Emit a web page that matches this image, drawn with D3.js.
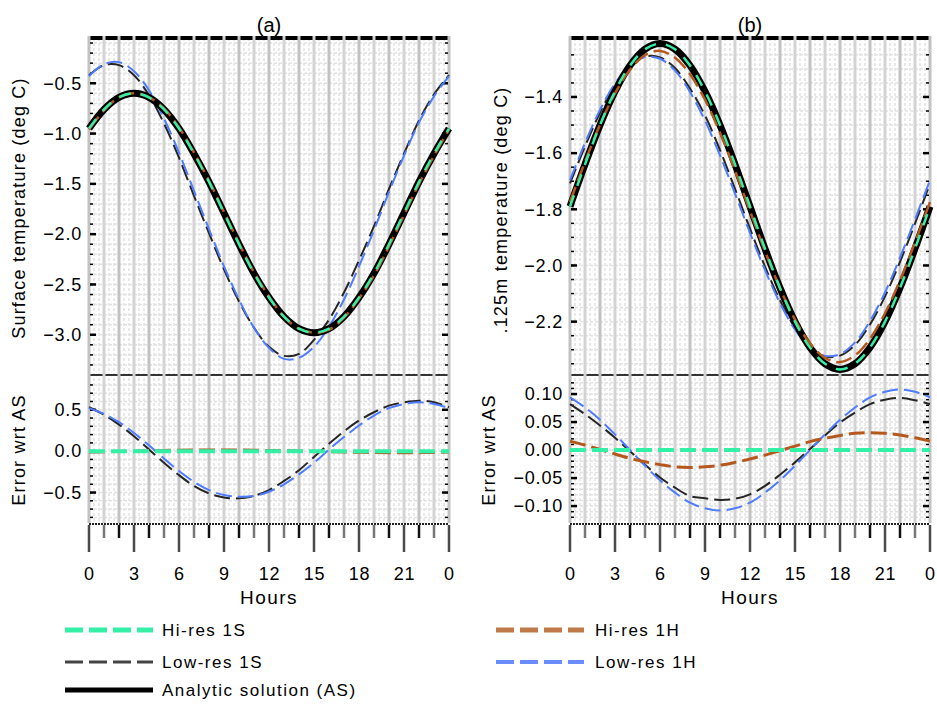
<!DOCTYPE html>
<html>
<head>
<meta charset="utf-8">
<script src="https://cdn.jsdelivr.net/npm/d3@7"></script>
<style>
  body { margin: 0; background: #fff; }
  svg text { font-family: "Liberation Sans", Arial, sans-serif; fill: #000; }
</style>
</head>
<body>
<svg id="chart" width="937" height="704"></svg>
<script>
// hours of the day (0..24, last one wraps to 0)
const hours = [0,1,2,3,4,5,6,7,8,9,10,11,12,13,14,15,16,17,18,19,20,21,22,23,24];
const hourTicks = [0,3,6,9,12,15,18,21,24];
const hourTickLabels = ["0","3","6","9","12","15","18","21","0"];

// (a) surface temperature, deg C
const surfAS      = [-0.95,-0.76,-0.64,-0.60,-0.64,-0.76,-0.95,-1.20,-1.48,-1.79,-2.10,-2.39,-2.63,-2.82,-2.94,-2.98,-2.94,-2.82,-2.63,-2.39,-2.10,-1.79,-1.48,-1.20,-0.95];
const surfHi1S    = [-0.95,-0.76,-0.64,-0.60,-0.64,-0.76,-0.95,-1.20,-1.48,-1.79,-2.10,-2.39,-2.63,-2.82,-2.94,-2.98,-2.94,-2.82,-2.63,-2.39,-2.10,-1.79,-1.48,-1.20,-0.95];
const surfHi1H    = [-0.96,-0.77,-0.64,-0.60,-0.64,-0.75,-0.94,-1.19,-1.47,-1.78,-2.09,-2.38,-2.62,-2.82,-2.94,-2.98,-2.95,-2.83,-2.64,-2.41,-2.12,-1.81,-1.50,-1.22,-0.96];
const surfLow1S   = [-0.42,-0.32,-0.32,-0.42,-0.62,-0.90,-1.24,-1.62,-1.99,-2.35,-2.67,-2.93,-3.12,-3.21,-3.19,-3.05,-2.85,-2.58,-2.26,-1.92,-1.55,-1.20,-0.87,-0.61,-0.42];
const surfLow1H   = [-0.43,-0.31,-0.29,-0.38,-0.57,-0.85,-1.19,-1.57,-1.95,-2.32,-2.65,-2.93,-3.13,-3.24,-3.23,-3.12,-2.92,-2.65,-2.32,-1.96,-1.58,-1.22,-0.89,-0.63,-0.43];
const surfErrHi1S = [0,0,0,0,0,0,0,0,0,0,0,0,0,0,0,0,0,0,0,0,0,0,0,0,0];
const surfErrHi1H = [-0.010,-0.008,-0.004,0.000,0.004,0.008,0.011,0.013,0.014,0.014,0.013,0.011,0.008,0.005,0.002,-0.002,-0.006,-0.010,-0.013,-0.016,-0.018,-0.019,-0.018,-0.016,-0.010];
const surfErrLow1S = [0.53,0.44,0.32,0.18,0.02,-0.14,-0.29,-0.42,-0.51,-0.56,-0.57,-0.54,-0.47,-0.36,-0.23,-0.07,0.09,0.24,0.37,0.47,0.55,0.59,0.61,0.59,0.53];
const surfErrLow1H = [0.52,0.45,0.35,0.22,0.07,-0.09,-0.24,-0.37,-0.47,-0.53,-0.55,-0.54,-0.49,-0.40,-0.28,-0.14,0.02,0.17,0.31,0.43,0.52,0.57,0.59,0.57,0.52];
const surfTicks = [-0.5,-1.0,-1.5,-2.0,-2.5,-3.0];
const surfErrTicks = [0.5,0.0,-0.5];

// (b) .125m temperature, deg C
const deepAS      = [-1.790,-1.640,-1.500,-1.380,-1.288,-1.230,-1.210,-1.230,-1.288,-1.380,-1.500,-1.640,-1.790,-1.940,-2.080,-2.200,-2.292,-2.350,-2.370,-2.350,-2.292,-2.200,-2.080,-1.940,-1.790];
const deepHi1S    = [-1.790,-1.640,-1.500,-1.380,-1.288,-1.230,-1.210,-1.230,-1.288,-1.380,-1.500,-1.640,-1.790,-1.940,-2.080,-2.200,-2.292,-2.350,-2.370,-2.350,-2.292,-2.200,-2.080,-1.940,-1.790];
const deepHi1H    = [-1.774,-1.631,-1.499,-1.387,-1.303,-1.251,-1.236,-1.260,-1.319,-1.410,-1.527,-1.662,-1.806,-1.949,-2.081,-2.193,-2.277,-2.329,-2.344,-2.320,-2.261,-2.170,-2.053,-1.918,-1.774];
const deepLow1S   = [-1.708,-1.576,-1.456,-1.358,-1.290,-1.256,-1.259,-1.297,-1.370,-1.466,-1.589,-1.727,-1.869,-2.004,-2.124,-2.222,-2.290,-2.324,-2.321,-2.283,-2.210,-2.110,-1.987,-1.851,-1.708];
const deepLow1H   = [-1.696,-1.564,-1.446,-1.352,-1.288,-1.258,-1.264,-1.306,-1.382,-1.484,-1.608,-1.744,-1.884,-2.016,-2.134,-2.228,-2.292,-2.322,-2.316,-2.274,-2.198,-2.096,-1.972,-1.836,-1.696];
const deepErrHi1S = [0,0,0,0,0,0,0,0,0,0,0,0,0,0,0,0,0,0,0,0,0,0,0,0,0];
const deepErrHi1H = [0.016,0.009,0.001,-0.007,-0.015,-0.021,-0.026,-0.030,-0.031,-0.030,-0.027,-0.022,-0.016,-0.009,-0.001,0.007,0.015,0.021,0.026,0.030,0.031,0.030,0.027,0.022,0.016];
const deepErrLow1S = [0.082,0.064,0.044,0.022,-0.002,-0.026,-0.049,-0.067,-0.082,-0.086,-0.089,-0.087,-0.079,-0.064,-0.044,-0.022,0.002,0.026,0.049,0.067,0.082,0.090,0.093,0.089,0.082];
const deepErrLow1H = [0.094,0.076,0.054,0.028,0.000,-0.028,-0.054,-0.076,-0.094,-0.104,-0.108,-0.104,-0.094,-0.076,-0.054,-0.028,0.000,0.028,0.054,0.076,0.094,0.104,0.108,0.104,0.094];
const deepTicks = [-1.4,-1.6,-1.8,-2.0,-2.2];
const deepErrTicks = [0.10,0.05,0.00,-0.05,-0.10];

const legendNames = ["Hi-res 1S","Low-res 1S","Analytic solution (AS)","Hi-res 1H","Low-res 1H"];

const col = {
  hi1S: "#33f0a6",
  hi1H: "#b5581e",
  low1S: "#262626",
  low1H: "#4f7cff",
  as: "#000"
};
const dash = "16,6";

const svg = d3.select("#chart");
const yTop = 38, yMid = 375, yBot = 524;

function panel(o) {
  const x = d3.scaleLinear().domain([0, 24]).range([o.x0, o.x0 + 360]);
  const y = d3.scaleLinear().domain(o.dom).range([yMid, yTop]);
  const ye = d3.scaleLinear().domain(o.errDom).range([yBot, yMid]);
  const g = svg.append("g");

  // faint dotted background grid
  const grid = g.append("g").attr("stroke", "#e2e2e2").attr("stroke-width", 1.5).attr("stroke-dasharray", "3,2");
  d3.range(0, 24 * 3).forEach(i => {
    if (i % 3 === 0) return;
    grid.append("line").attr("x1", x(i / 3)).attr("x2", x(i / 3)).attr("y1", yTop).attr("y2", yBot);
  });
  o.minor.forEach(v => grid.append("line").attr("x1", x(0)).attr("x2", x(24)).attr("y1", y(v)).attr("y2", y(v)));
  o.errMinor.forEach(v => grid.append("line").attr("x1", x(0)).attr("x2", x(24)).attr("y1", ye(v)).attr("y2", ye(v)));

  // frame lines
  g.append("line").attr("x1", x(0)).attr("x2", x(24)).attr("y1", yTop).attr("y2", yTop)
    .attr("stroke", "#000").attr("stroke-width", 4);
  g.append("line").attr("x1", x(0)).attr("x2", x(24)).attr("y1", yMid).attr("y2", yMid)
    .attr("stroke", "#333").attr("stroke-width", 2);
  g.append("line").attr("x1", x(0)).attr("x2", x(24)).attr("y1", yBot).attr("y2", yBot)
    .attr("stroke", "#222").attr("stroke-width", 2).attr("stroke-dasharray", "2,1");

  // hour lines
  hours.forEach(h => {
    g.append("line").attr("x1", x(h)).attr("x2", x(h)).attr("y1", yTop - 2).attr("y2", yBot - 1)
      .attr("stroke", h % 2 ? "#d3d3d3" : "#c2c2c2").attr("stroke-width", 3);
  });

  // y minor/major ticks, both sides
  const tk = g.append("g").attr("stroke", "#000").attr("stroke-width", 1.5);
  function yTicks(scale, minor, major) {
    minor.forEach(v => {
      tk.append("line").attr("x1", x(0) + 1).attr("x2", x(0) + 4).attr("y1", scale(v)).attr("y2", scale(v));
      tk.append("line").attr("x1", x(24) - 4).attr("x2", x(24) - 1).attr("y1", scale(v)).attr("y2", scale(v));
    });
    major.forEach(v => {
      tk.append("line").attr("x1", x(0) + 1).attr("x2", x(0) + 7).attr("y1", scale(v)).attr("y2", scale(v)).attr("stroke-width", 2.5);
      tk.append("line").attr("x1", x(24) - 7).attr("x2", x(24) - 1).attr("y1", scale(v)).attr("y2", scale(v)).attr("stroke-width", 2.5);
    });
  }
  yTicks(y, o.minor, o.ticks);
  yTicks(ye, o.errMinor, o.errTicks);

  // x ticks below
  hours.forEach(h => {
    g.append("line").attr("x1", x(h)).attr("x2", x(h)).attr("y1", yBot + 1).attr("y2", h % 3 === 0 ? 552 : 538)
      .attr("stroke", h % 3 === 0 ? "#4a4a4a" : (h % 2 ? "#777" : "#111")).attr("stroke-width", 2.5);
  });

  // y axes labels
  const ay = g.append("g").attr("transform", `translate(${x(0)},0)`)
    .call(d3.axisLeft(y).tickValues(o.ticks).tickFormat(d3.format(o.fmt)).tickSize(0).tickPadding(7));
  const aye = g.append("g").attr("transform", `translate(${x(0)},0)`)
    .call(d3.axisLeft(ye).tickValues(o.errTicks).tickFormat(d3.format(o.errFmt)).tickSize(0).tickPadding(7));
  [ay, aye].forEach(a => {
    a.select(".domain").remove();
    a.selectAll("text").attr("font-size", 18).attr("letter-spacing", 0.8)
      .attr("font-family", "Liberation Sans, Arial, sans-serif").attr("fill", "#000");
  });

  // x axis labels
  const ax = g.append("g").attr("transform", `translate(0,${yBot})`)
    .call(d3.axisBottom(x).tickValues(hourTicks).tickFormat((d, i) => hourTickLabels[i]).tickSize(0).tickPadding(43));
  ax.select(".domain").remove();
  ax.selectAll("text").attr("font-size", 18).attr("letter-spacing", 0.8)
    .attr("font-family", "Liberation Sans, Arial, sans-serif").attr("fill", "#000");

  g.append("text").attr("x", x(12)).attr("y", 604).attr("text-anchor", "middle").attr("font-size", 19).attr("letter-spacing", 1.5).text("Hours");
  g.append("text").attr("x", x(12)).attr("y", 32).attr("text-anchor", "middle").attr("font-size", 20).text(o.title);
  g.append("text").attr("transform", `translate(${o.labX},${o.labY}) rotate(-90)`).attr("text-anchor", "middle")
    .attr("font-size", 18).attr("letter-spacing", 1.2).text(o.ylabel);
  g.append("text").attr("transform", `translate(${o.errLabX},450) rotate(-90)`).attr("text-anchor", "middle")
    .attr("font-size", 18).attr("letter-spacing", 1.2).text("Error wrt AS");

  // curves
  const lineTop = d3.line().x((d, i) => x(hours[i])).y(d => y(d)).curve(d3.curveCatmullRom);
  const lineErr = d3.line().x((d, i) => x(hours[i])).y(d => ye(d)).curve(d3.curveCatmullRom);
  const path = (gen, data, stroke, w, da) => g.append("path").attr("d", gen(data)).attr("fill", "none")
    .attr("stroke", stroke).attr("stroke-width", w).attr("stroke-dasharray", da || null);

  path(lineTop, o.low1S, col.low1S, 2, dash);
  path(lineTop, o.low1H, col.low1H, 2, dash);
  path(lineTop, o.as, col.as, 7);
  path(lineTop, o.hi1H, col.hi1H, 2.5, dash);
  path(lineTop, o.hi1S, col.hi1S, 2.5, "12,10");

  path(lineErr, o.errLow1S, col.low1S, 2, dash);
  path(lineErr, o.errLow1H, col.low1H, 2, dash);
  path(lineErr, o.errHi1H, col.hi1H, 3, dash);
  path(lineErr, o.errHi1S, col.hi1S, 4, dash);
}

panel({
  x0: 89, title: "(a)", ylabel: "Surface temperature (deg C)", labX: 25, labY: 208, errLabX: 25,
  dom: [-3.4, -0.05], errDom: [-0.88, 0.92],
  ticks: surfTicks, errTicks: surfErrTicks, fmt: ".1f", errFmt: ".1f",
  minor: d3.range(-3.3, -0.05, 0.1), errMinor: d3.range(-0.8, 0.9, 0.1),
  as: surfAS, hi1S: surfHi1S, hi1H: surfHi1H, low1S: surfLow1S, low1H: surfLow1H,
  errHi1S: surfErrHi1S, errHi1H: surfErrHi1H, errLow1S: surfErrLow1S, errLow1H: surfErrLow1H
});
panel({
  x0: 570, title: "(b)", ylabel: ".125m temperature (deg C)", labX: 507, labY: 210, errLabX: 495,
  dom: [-2.39, -1.19], errDom: [-0.132, 0.134],
  ticks: deepTicks, errTicks: deepErrTicks, fmt: ".1f", errFmt: ".2f",
  minor: d3.range(-2.35, -1.2, 0.05), errMinor: d3.range(-0.12, 0.13, 0.01),
  as: deepAS, hi1S: deepHi1S, hi1H: deepHi1H, low1S: deepLow1S, low1H: deepLow1H,
  errHi1S: deepErrHi1S, errHi1H: deepErrHi1H, errLow1S: deepErrLow1S, errLow1H: deepErrLow1H
});

// legend
const legendItems = [
  {name: legendNames[0], x: 65, y: 630, stroke: col.hi1S, w: 5, da: "18,6"},
  {name: legendNames[1], x: 65, y: 662, stroke: "#444", w: 3, da: "18,6"},
  {name: legendNames[2], x: 65, y: 690, stroke: col.as, w: 5, da: null},
  {name: legendNames[3], x: 496, y: 630, stroke: "#c07a4a", w: 5, da: "18,6"},
  {name: legendNames[4], x: 496, y: 662, stroke: "#6a8cff", w: 4, da: "18,6"}
];
const lg = svg.append("g");
legendItems.forEach(d => {
  lg.append("line").attr("x1", d.x).attr("x2", d.x + 88).attr("y1", d.y).attr("y2", d.y)
    .attr("stroke", d.stroke).attr("stroke-width", d.w).attr("stroke-dasharray", d.da);
  lg.append("text").attr("x", d.x + (d.x < 200 ? 97 : 99)).attr("y", d.y + 6).attr("font-size", 17)
    .attr("letter-spacing", 1.5).text(d.name);
});
</script>
</body>
</html>
